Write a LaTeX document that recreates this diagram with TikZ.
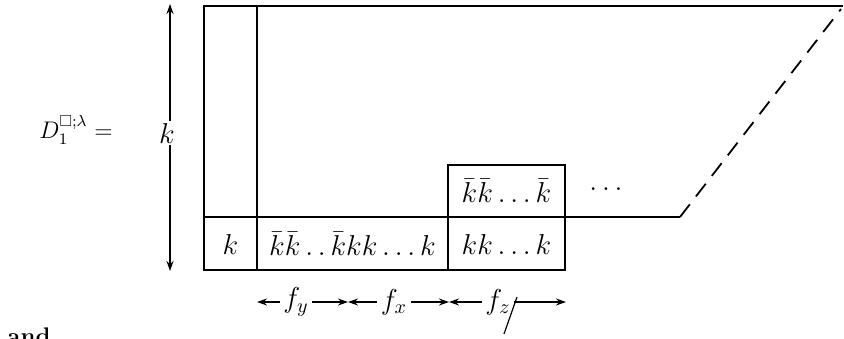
\documentclass[tikz,border=0pt]{standalone}
\usepackage{amssymb}
\usetikzlibrary{arrows.meta,calc}

\begin{document}
\begin{tikzpicture}[
  x=0.5pt, y=-0.5pt,
  frame/.style={line width=0.9pt},
  dimarr/.style={-{Stealth[length=5pt,width=3.5pt]}, line width=0.7pt},
  lbl/.style={inner sep=1pt, font=\Large},
  dimlbl/.style={inner sep=1.5pt, font=\Large, fill=white},
]
  \useasboundingbox (0,0) rectangle (844,338);

  % Outer diagram
  \draw[frame] (843,6) -- (204,6) -- (204,270) -- (565,270) -- (565,165)
    -- (448,165) -- (448,270);
  \draw[frame] (257,6) -- (257,270);
  \draw[frame] (204,217) -- (680,217);
  \draw[frame, dashed, dash pattern=on 8pt off 5pt] (680,217) -- (841,9);

  % Cell entries
  \node[lbl] (ck)   at (230.5,244) {$k$};
  \node[lbl] (cmid) at (352.5,244) {$\bar k\bar k\,.\,.\,\bar k kk\ldots k$};
  \node[lbl] (cz)   at (506.5,244) {$kk\ldots k$};
  \node[lbl] (cbar) at (506.5,191) {$\bar k\bar k\ldots\bar k$};
  \node[lbl] (dots) at (606,189) {$\ldots$};

  % Left label
  \node[inner sep=1pt, font=\large] (dlab) at (76,130) {$D_1^{\square;\lambda} =$};

  % Vertical dimension
  \coordinate (ktop) at (170,4);
  \coordinate (kbot) at (170,271);
  \node[lbl] (kh) at (167,133) {$k$};
  \draw[dimarr] (ktop |- kh.north) -- (ktop);
  \draw[dimarr] (ktop |- kh.south) -- (kbot);

  % Horizontal dimensions
  \coordinate (a0) at (257,302);
  \coordinate (a1) at (348,302);
  \coordinate (a2) at (449,302);
  \coordinate (a3) at (566,302);
  \node[dimlbl] (fy) at (296,302) {$f_y$};
  \node[dimlbl] (fx) at (394,302) {$f_x$};
  \node[dimlbl] (fz) at (498,302) {$f_z$};
  \draw[dimarr] (fy) -- (a0);
  \draw[dimarr] (fy) -- (a1);
  \draw[dimarr] (fx) -- (a1);
  \draw[dimarr] (fx) -- (a2);
  \draw[dimarr] (fz) -- (a2);
  \draw[dimarr] (fz) -- (a3);
  \draw[line width=0.6pt] (517,297) -- (504,334);

  % Cut-off text below
  \node[anchor=north west, inner sep=0pt, font=\large\bfseries] (andtxt) at (7,327) {and};
\end{tikzpicture}
\end{document}
